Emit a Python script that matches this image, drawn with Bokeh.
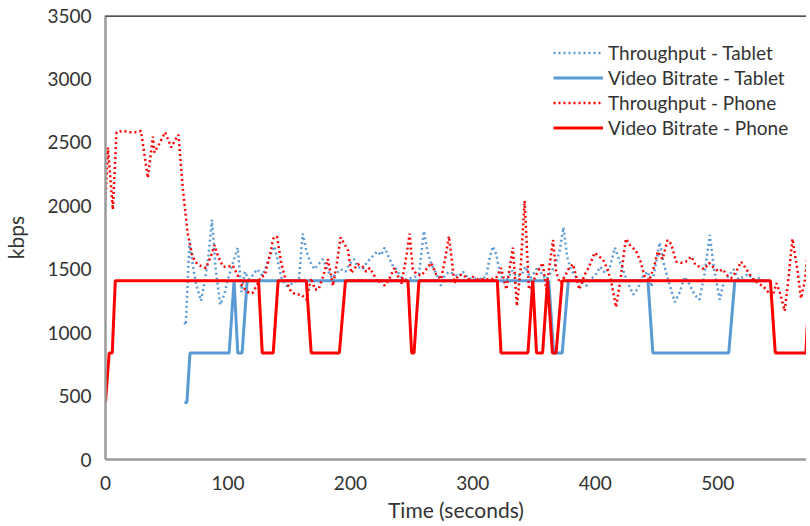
from bokeh.plotting import figure
from bokeh.models import Span, Range1d, FixedTicker
from bokeh.embed import file_html
from bokeh.resources import INLINE

# ---- data ----
phone_tp_t = [0, 2, 6, 9, 14, 20, 26, 29, 34.6, 38.7, 40, 44, 48.7, 53.7, 57, 59.6, 63, 67, 71, 75, 79, 82, 86, 89, 92, 96, 100, 104, 108, 112, 116, 120, 124, 127, 130, 134, 137, 140, 143.5, 147, 151.7, 156, 160, 164, 168, 171, 174, 178, 181.6, 185.7, 189, 192, 195, 198, 200.7, 203, 206, 210, 213, 215.7, 219, 222.5, 225, 228, 232, 236, 239, 241.6, 245, 248.4, 251, 254, 258, 262, 266, 270, 274, 277, 280.5, 285, 288, 292, 296, 300, 304, 308, 311, 315, 319, 323, 327.4, 332.7, 336, 339, 342.3, 345.8, 349, 353, 357, 360, 365.5, 368, 371, 375, 378, 381.8, 384, 387, 391, 395, 399.5, 403, 406, 410, 413, 417, 421, 425, 429, 433, 437, 440, 444, 448, 451, 455, 459, 462, 466, 470, 474, 478.5, 482, 485, 489, 493, 497, 501, 504, 508, 511, 515, 519, 522, 526, 529, 534, 537, 540, 545, 548, 551, 554.7, 558, 561, 565, 568, 571, 574.6]
phone_tp_v = [2050, 2460, 1970, 2580, 2590, 2580, 2580, 2590, 2220, 2545, 2420, 2490, 2580, 2460, 2520, 2560, 2150, 1790, 1600, 1540, 1520, 1510, 1600, 1690, 1600, 1520, 1520, 1530, 1450, 1360, 1320, 1310, 1380, 1440, 1450, 1600, 1740, 1760, 1550, 1420, 1320, 1300, 1300, 1260, 1430, 1340, 1340, 1450, 1580, 1370, 1550, 1750, 1700, 1650, 1470, 1500, 1540, 1520, 1480, 1510, 1460, 1390, 1420, 1370, 1430, 1510, 1440, 1380, 1560, 1780, 1500, 1460, 1450, 1500, 1550, 1460, 1420, 1560, 1760, 1390, 1450, 1460, 1420, 1440, 1420, 1420, 1420, 1420, 1430, 1510, 1340, 1670, 1210, 1500, 2040, 1340, 1400, 1480, 1550, 1340, 1730, 1480, 1390, 1440, 1500, 1540, 1460, 1340, 1450, 1520, 1630, 1600, 1580, 1500, 1400, 1200, 1450, 1740, 1680, 1650, 1560, 1450, 1410, 1520, 1640, 1580, 1730, 1700, 1560, 1550, 1560, 1600, 1530, 1520, 1500, 1550, 1510, 1480, 1500, 1450, 1430, 1480, 1560, 1520, 1460, 1420, 1380, 1370, 1330, 1290, 1390, 1310, 1170, 1450, 1740, 1500, 1270, 1400, 1740]

phone_br_t = [0, 3, 5.5, 8, 125, 128, 137, 141, 164, 168, 191, 196, 247, 250, 252, 256, 320, 323, 345, 349, 352, 357, 361, 365, 368, 373, 543, 547, 572, 575]
phone_br_v = [450, 840, 840, 1410, 1410, 840, 840, 1410, 1410, 840, 840, 1410, 1410, 840, 840, 1410, 1410, 840, 840, 1410, 840, 840, 1410, 840, 840, 1410, 1410, 840, 840, 1410]

tablet_br_t = [64.5, 66.5, 69, 101, 105, 108, 111.6, 115.7, 362, 366, 373, 378, 443, 447, 509, 514, 540]
tablet_br_v = [450, 450, 840, 840, 1410, 840, 840, 1410, 1410, 840, 840, 1410, 1410, 840, 840, 1410, 1410]

tablet_tp_t = [64.5, 65.5, 68.6, 71, 74, 78, 81, 84, 87, 90, 93.7, 97, 100, 104, 108, 111, 114, 117, 120, 124, 128, 131, 134, 138, 141, 144, 147.6, 151, 155, 158, 161, 164, 167, 170.7, 174, 177.6, 181, 185, 189, 192, 196, 199, 203, 206, 210, 214, 218, 222, 225, 228, 232, 235, 237.5, 241, 245, 249, 253, 256, 260, 263, 266, 270, 274, 277, 281, 285, 288, 292, 296, 300, 304, 308, 311, 314, 316.5, 319, 322, 325, 329, 332, 336, 340, 343, 347, 350, 353, 357, 360, 364, 368, 371, 374, 377, 380, 384, 387, 390, 392.7, 396, 400, 404, 408, 412, 416, 420, 424, 428, 431, 435, 439, 443, 446, 449, 452.6, 456, 460, 465, 469, 473, 477, 481, 485, 489, 493.5, 497, 501.6, 505, 509, 513, 517, 521, 525, 529, 533, 537]
tablet_tp_v = [1080, 1060, 1710, 1550, 1380, 1250, 1400, 1600, 1890, 1500, 1220, 1300, 1420, 1550, 1670, 1320, 1480, 1420, 1450, 1500, 1450, 1520, 1600, 1680, 1550, 1420, 1370, 1380, 1400, 1420, 1780, 1650, 1560, 1500, 1540, 1580, 1500, 1430, 1470, 1500, 1480, 1540, 1580, 1520, 1500, 1560, 1600, 1640, 1610, 1670, 1580, 1520, 1500, 1440, 1420, 1430, 1440, 1460, 1800, 1640, 1540, 1470, 1370, 1450, 1480, 1460, 1440, 1480, 1430, 1420, 1430, 1420, 1450, 1600, 1680, 1620, 1480, 1400, 1430, 1490, 1440, 1460, 1520, 1430, 1470, 1520, 1450, 1420, 1480, 1550, 1650, 1830, 1600, 1500, 1440, 1400, 1390, 1370, 1420, 1450, 1520, 1470, 1520, 1670, 1560, 1460, 1360, 1300, 1350, 1450, 1480, 1360, 1520, 1710, 1540, 1400, 1240, 1320, 1440, 1380, 1300, 1260, 1450, 1770, 1500, 1260, 1400, 1450, 1500, 1420, 1440, 1460, 1420, 1430, 1410]

x_ticks = [0, 100, 200, 300, 400, 500]
y_ticks = [0, 500, 1000, 1500, 2000, 2500, 3000, 3500]

BLUE = "#5B9BD5"
RED = "#FF0000"
FONT = "Lato"
TXT = "#333333"

p = figure(width=806, height=524, output_backend="svg", toolbar_location=None,
           x_range=Range1d(0, 572.5), y_range=Range1d(0, 3500),
           min_border_left=105, min_border_right=0, min_border_top=15, min_border_bottom=63)
p.outline_line_color = None
p.xgrid.visible = False
p.ygrid.visible = False
p.background_fill_color = "white"

p.line(tablet_tp_t, tablet_tp_v, color=BLUE, line_width=2.5, line_dash="2 3",
       legend_label="Throughput - Tablet")
p.line(tablet_br_t, tablet_br_v, color=BLUE, line_width=3,
       legend_label="Video Bitrate - Tablet")
p.line(phone_tp_t, phone_tp_v, color=RED, line_width=2.5, line_dash="2 3",
       legend_label="Throughput - Phone")
p.line(phone_br_t, phone_br_v, color=RED, line_width=3,
       legend_label="Video Bitrate - Phone")

p.add_layout(Span(location=3500, dimension="width", line_color="#1a1a1a", line_width=2.5))

for ax in (p.xaxis[0], p.yaxis[0]):
    ax.axis_line_color = "#9a9a9a"
    ax.axis_line_width = 2.5
    ax.major_tick_line_color = None
    ax.minor_tick_line_color = None
    ax.major_label_text_font = FONT
    ax.major_label_text_font_size = "19px"
    ax.major_label_text_color = TXT
    ax.axis_label_text_font = FONT
    ax.axis_label_text_font_size = "21px"
    ax.axis_label_text_font_style = "normal"
    ax.axis_label_text_color = TXT

p.xaxis.ticker = FixedTicker(ticks=x_ticks)
p.yaxis.ticker = FixedTicker(ticks=y_ticks)
p.xaxis.axis_label = "Time (seconds)"
p.yaxis.axis_label = "kbps"
p.xaxis.major_label_standoff = 10
p.yaxis.major_label_standoff = 8
p.xaxis.axis_label_standoff = 4
p.yaxis.axis_label_standoff = 16

leg = p.legend[0]
leg.location = (448, 319)
leg.border_line_color = None
leg.background_fill_alpha = 0
leg.padding = 0
leg.margin = 0
leg.spacing = 0
leg.label_height = 25
leg.glyph_height = 25
leg.glyph_width = 50
leg.label_standoff = 5
leg.label_text_font = FONT
leg.label_text_font_size = "19px"
leg.label_text_color = TXT

open("out.html", "w").write(file_html(p, INLINE))
